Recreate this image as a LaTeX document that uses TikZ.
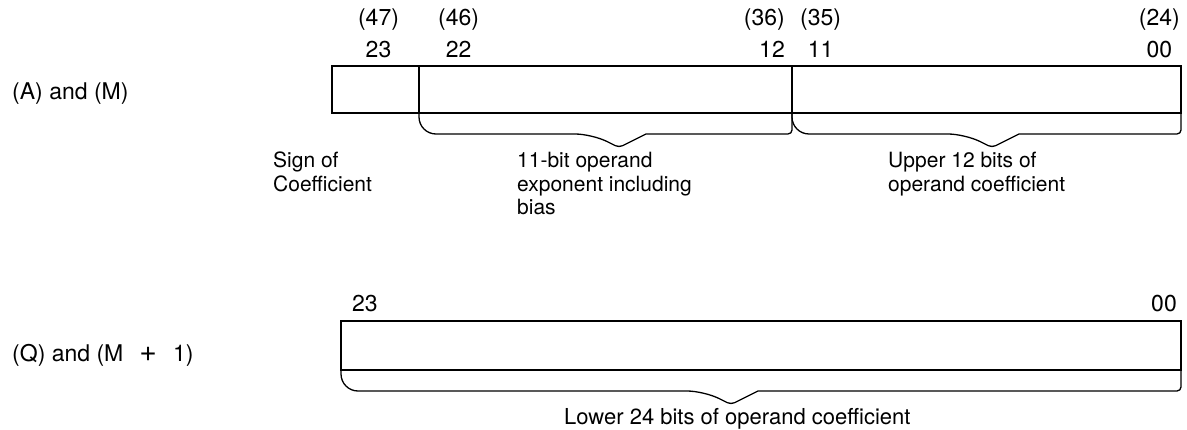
\documentclass[tikz,border=0pt]{standalone}
\usepackage{fontspec}
\setmainfont{TeX Gyre Heros}
\usetikzlibrary{positioning,calc}

%% brace hanging under a field: left end, right end, tip
\newcommand{\fieldbrace}[3]{%
  \draw[brace] (#1) [rounded corners=17pt] -- ($(#1)+(0,-21)$)
    -- ($(#3)+(-27,13.5)$) [rounded corners=4pt] -- (#3)
    [sharp corners] -- ($(#3)+(27,13.5)$) [rounded corners=4pt]
    -- ($(#2)+(0,-21)$) [rounded corners=17pt] -- (#2);}

\begin{document}
\begin{tikzpicture}[
  x=1pt, y=1pt,
  field/.style={draw, line width=1.3pt, inner sep=0pt, outer sep=0pt,
                minimum height=47pt},
  brace/.style={line width=1.3pt},
  bitno/.style={inner sep=0pt, align=center, font=\fontsize{23}{32}\selectfont},
  lbl/.style={inner sep=0pt, align=left, anchor=north west,
              font=\fontsize{21}{23.5}\selectfont},
  rowlbl/.style={inner sep=0pt, anchor=west, font=\fontsize{23}{25}\selectfont},
]
\useasboundingbox (0,0) rectangle (1187,429);

%% Upper word: sign, exponent, upper coefficient
\node[field, minimum width=87pt] (sgn) at (375.5,339.5) {};
\node[field, minimum width=373pt, right=0pt of sgn] (expo) {};
\node[field, minimum width=389pt, right=0pt of expo] (ucoef) {};

%% Lower word
\node[field, minimum width=840pt, minimum height=49pt] (lcoef) at (761,83.5) {};

%% Register names
\node[rowlbl] (am) at ($(sgn.west)+(-320,-4)$) {(A) and (M)};
\node[rowlbl] (qm) at ($(lcoef.west)+(-329,-9.5)$)
  {(Q) and (M\hspace{0.7em}{\fontsize{30}{30}\selectfont+}\hspace{0.7em}1)};

%% Bit numbers
\node[bitno, above=8pt of sgn, xshift=3pt] (b47) {(47)\\23};
\node[bitno, above right=8pt and 19pt of expo.north west] (b46) {(46)\\22};
\node[bitno, align=right, above left=8pt and 7pt of ucoef.north west] (b36) {(36)\\12};
\node[bitno, above right=8pt and 8pt of ucoef.north west] (b35) {(35)\\11};
\node[bitno, above left=8pt and 1pt of ucoef.north east] (b24) {(24)\\00};
\node[bitno, above right=9pt and 11pt of lcoef.north west] (l23) {23};
\node[bitno, above left=9pt and 4pt of lcoef.north east] (l00) {00};

%% Braces
\coordinate (tipexp) at ($(expo.south)+(13.5,-34.5)$);
\coordinate (tipucoef) at ($(ucoef.south)+(5.5,-34.5)$);
\coordinate (tiplcoef) at ($(lcoef.south)+(-30,-34.5)$);
\fieldbrace{expo.south west}{expo.south east}{tipexp}
\fieldbrace{ucoef.south west}{ucoef.south east}{tipucoef}
\fieldbrace{lcoef.south west}{lcoef.south east}{tiplcoef}

%% Field descriptions
\node[lbl] (sgnlbl) at ($(sgn.south west)+(-59,-39)$) {Sign of\\Coefficient};
\node[lbl] (explbl) at ($(tipexp)+(-102,-4.5)$)
  {11-bit operand\\exponent including\\bias};
\node[lbl] (ucoeflbl) at ($(tipucoef)+(-104,-4.5)$)
  {Upper 12 bits of\\operand coefficient};
\node[lbl, anchor=north west, font=\fontsize{22}{24}\selectfont] (lcoeflbl)
  at ($(tiplcoef)+(-167,-3.5)$) {Lower 24 bits of operand coefficient};

\end{tikzpicture}
\end{document}
